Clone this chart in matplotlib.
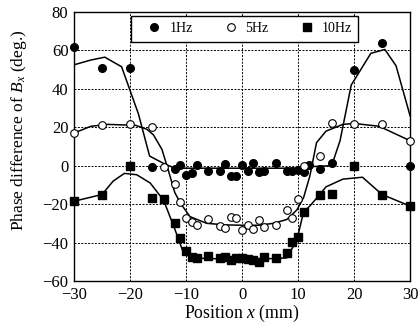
import matplotlib
matplotlib.use("Agg")
import matplotlib.pyplot as plt

plt.rcParams["font.family"] = ["Liberation Serif", "DejaVu Serif"]
plt.rcParams["mathtext.fontset"] = "custom"
plt.rcParams["mathtext.rm"] = "Liberation Serif"
plt.rcParams["mathtext.it"] = "Liberation Serif:italic"

# measured points
x1 = [-30, -25, -20, -16, -12, -11, -10, -9, -8, -6, -4, -3, -2, -1, 0, 1, 2, 3, 4,
      6, 8, 9, 10, 11, 12, 14, 16, 20, 25, 30]
y1 = [62, 51, 51, -0.5, -1.5, 0.5, -5, -4, 0.5, -3, -3, 1, -5.3, -5.2, 0.3, -2.5, 1.4,
      -3.5, -2.5, 1.4, -3, -3, -2, -3.3, 0.3, -1.5, 1.4, 50, 64, 0]

x5 = [-30, -25, -20, -16, -14, -12, -11, -10, -9, -8, -6, -4, -3, -2, -1, 0, 1, 2, 3, 4,
      6, 8, 9, 10, 11, 14, 16, 20, 25, 30]
y5 = [17, 21, 21.5, 20, -0.5, -9.5, -19, -27, -29.5, -31, -28, -31.5, -32.5, -26.5,
      -27, -33.5, -31, -33, -28.5, -32, -31, -23, -27, -17.5, 0, 5, 22, 21.5, 21.5, 13]

x10 = [-30, -25, -20, -16, -14, -12, -11, -10, -9, -8, -6, -4, -3, -2, -1, 0, 1, 2, 3, 4,
       6, 8, 9, 10, 11, 14, 16, 20, 25, 30]
y10 = [-18.5, -15, 0, -17, -17.5, -30, -37.5, -44.5, -47.5, -48, -47, -48, -47.5, -49,
       -48, -48, -48.5, -49, -50, -47.5, -48, -45.5, -39.5, -37, -24, -15.5, -14.5, 0,
       -15, -21]

# fitted curves
cx1 = [-30, -27, -24.5, -21.5, -18.5, -16.5, -14, -12, 10, 12, 16, 17.5, 19.5, 23,
       25.5, 27.5, 30]
cy1 = [52.5, 55, 56.5, 51.5, 27, 5, 1.2, -1.3, -1.3, -0.5, 0, 13, 42, 58.5, 60.5, 52,
       26]

cx5 = [-30, -27, -24, -19, -17, -15.8, -14.3, -13.2, -12, -11, -9.3, -6.3, -3, 0, 3,
       5.6, 8, 9.8, 11, 12.1, 13.3, 15, 18, 20, 24.5, 30]
cy5 = [17, 20.5, 21.5, 21, 19, 16, 8.5, -2, -14, -19.5, -26.5, -30, -30.8, -31, -31,
       -30, -28, -23, -16.5, -5.5, 12, 18, 21.5, 22, 20.5, 13]

cx10 = [-30, -25, -23, -21, -18.8, -16.4, -14, -12, -10.5, -9, -4, 0, 4, 8, 9.8, 11,
        12.1, 13, 15, 18, 21.5, 25, 30]
cy10 = [-18.5, -15, -8, -4, -4.7, -9, -18, -33, -45, -48, -48.5, -48.5, -48.5, -48,
        -38.5, -24, -21, -18, -11, -7, -6, -15, -21]

fig = plt.figure(figsize=(4.18, 3.29), dpi=100)
ax = fig.add_axes([0.177, 0.146, 0.804, 0.8175])

for cx, cy in [(cx1, cy1), (cx5, cy5), (cx10, cy10)]:
    ax.plot(cx, cy, color="black", lw=1.1, zorder=3)

ax.plot(x1, y1, "o", ms=5.5, color="black", label="1Hz", clip_on=False, zorder=4)
ax.plot(x5, y5, "o", ms=5.5, mfc="white", mec="black", mew=0.8, label="5Hz",
        clip_on=False, zorder=4)
ax.plot(x10, y10, "s", ms=6, color="black", label="10Hz", clip_on=False, zorder=4)

ax.set_xlim(-30, 30)
ax.set_ylim(-60, 80)
ax.set_xticks(range(-30, 31, 10))
ax.set_yticks(range(-60, 81, 20))
ax.tick_params(direction="in", length=0, labelsize=12, pad=4)
ax.grid(True, color="black", linestyle=(0, (2, 1.5)), linewidth=0.7)
for s in ax.spines.values():
    s.set_linewidth(1.0)

ax.set_xlabel("Position $\\it{x}$ (mm)", fontsize=12.8, labelpad=0)
ax.set_ylabel("Phase difference of $B_x$ (deg.)", fontsize=12.5)
ax.yaxis.set_label_coords(-0.135, 0.56)

leg = ax.legend(ncol=3, loc="upper left", bbox_to_anchor=(0.17, 0.985),
                fancybox=False, edgecolor="black", framealpha=1,
                fontsize=10, handletextpad=-0.15, borderaxespad=0, handlelength=2.45,
                columnspacing=1.5, borderpad=0.45)
leg.get_frame().set_linewidth(1.0)

fig.savefig("out.png", dpi=100)
